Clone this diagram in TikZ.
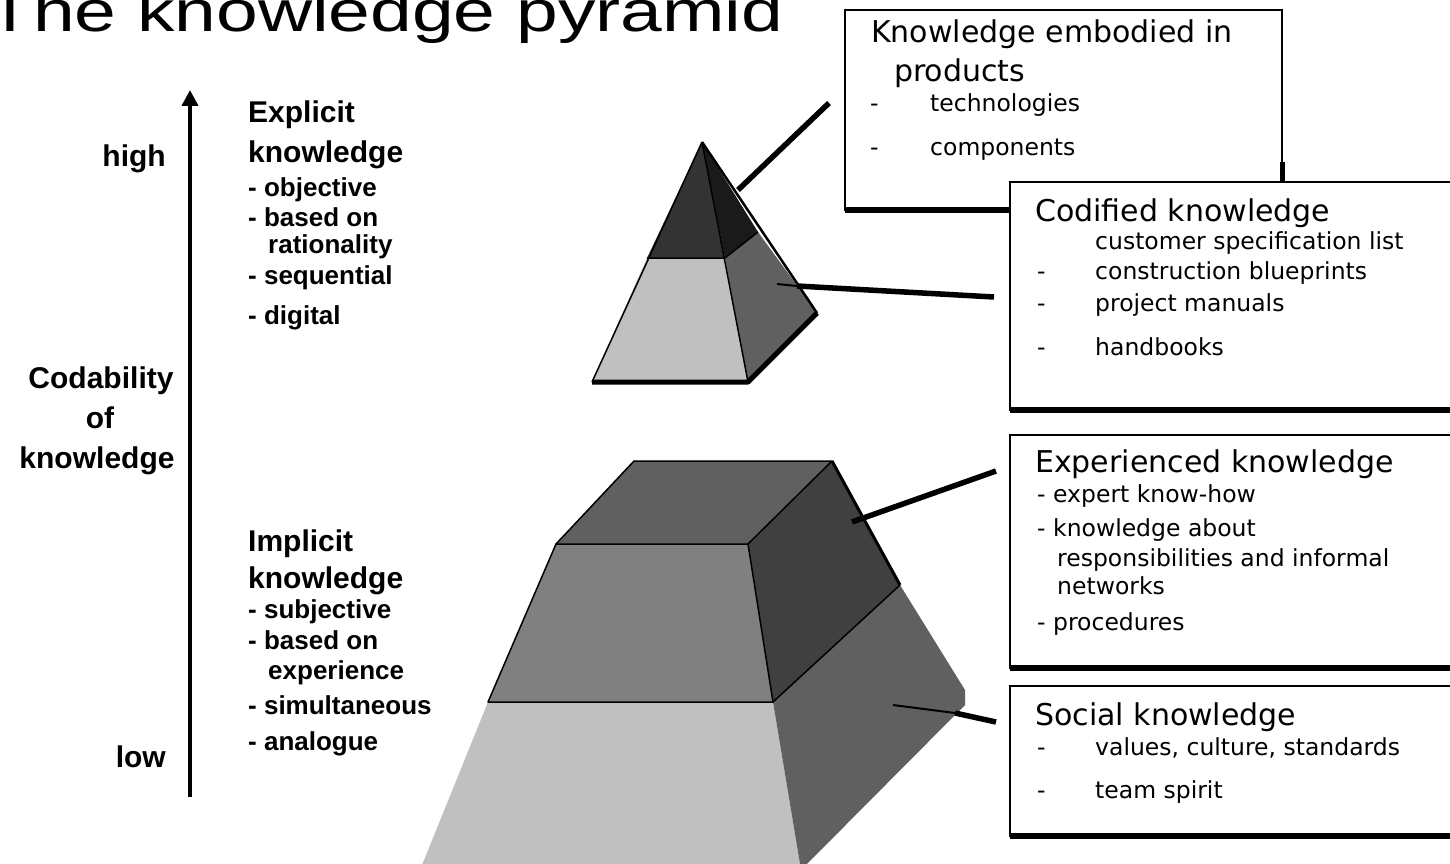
\documentclass[tikz,border=0pt]{standalone}
\usepackage{graphicx}
\usepackage{fontspec}
\setmainfont{Liberation Sans}
\newfontfamily\dvs{DejaVu Sans}
\usetikzlibrary{arrows.meta}
\definecolor{g1a}{HTML}{1A1A1A}
\definecolor{g33}{HTML}{333333}
\definecolor{g40}{HTML}{404040}
\definecolor{g60}{HTML}{606060}
\definecolor{g80}{HTML}{808080}
\definecolor{gc0}{HTML}{C0C0C0}
\begin{document}
\begin{tikzpicture}[x=1pt,y=-1pt,
  lbl/.style={anchor=base west,inner sep=0pt,font=\bfseries\fontsize{26}{30}\selectfont},
  lblh/.style={anchor=base west,inner sep=0pt,font=\bfseries\fontsize{30}{36}\selectfont},
  bh/.style={anchor=base west,inner sep=0pt,font=\dvs\fontsize{30}{36}\selectfont},
  bi/.style={anchor=base west,inner sep=0pt,font=\dvs\fontsize{23.5}{28}\selectfont},
  thinedge/.style={line width=1.5pt,line join=round},
  heavy/.style={line width=5pt,line join=round},
  conn/.style={line width=5.5pt},
  boxframe/.style={draw=black,fill=white,line width=2pt},
  shadow/.style={line width=6pt}]
\useasboundingbox (0,0) rectangle (1450,864);
\begin{scope}
\clip (0,0) rectangle (1450,864);
% title
\node[anchor=base west,inner sep=0pt,font=\fontsize{58}{62}\selectfont] (title) at (-13,32) {\scalebox{1.293}[1]{The knowledge pyramid}};

% axis
\coordinate (axbot) at (190,797);
\coordinate (axtop) at (190,90);
\draw[line width=4pt,-{Triangle[width=16pt,length=16pt]}] (axbot) -- (axtop);
\node[anchor=base east,inner sep=0pt,font=\bfseries\fontsize{30}{36}\selectfont] (high) at (166,166) {high};
\node[anchor=base east,inner sep=0pt,font=\bfseries\fontsize{30}{36}\selectfont] (low) at (166,767) {low};
\node[anchor=base,inner sep=0pt,font=\bfseries\fontsize{30}{36}\selectfont] (cod1) at (101,388) {Codability};
\node[anchor=base,inner sep=0pt,font=\bfseries\fontsize{30}{36}\selectfont] (cod2) at (100,428) {of};
\node[anchor=base,inner sep=0pt,font=\bfseries\fontsize{30}{36}\selectfont] (cod3) at (97,468) {knowledge};

% explicit
\node[lblh] (ex1) at (248,123) {Explicit};
\node[lblh] (ex2) at (248,162) {knowledge};
\node[lbl] (ex3) at (248,196) {- objective};
\node[lbl] (ex4) at (248,226) {- based on};
\node[lbl] (ex5) at (268,253) {rationality};
\node[lbl] (ex6) at (248,284) {- sequential};
\node[lbl] (ex7) at (248,324) {- digital};
% implicit
\node[lblh] (im1) at (248,551) {Implicit};
\node[lblh] (im2) at (248,588) {knowledge};
\node[lbl] (im3) at (248,618) {- subjective};
\node[lbl] (im4) at (248,649) {- based on};
\node[lbl] (im5) at (268,679) {experience};
\node[lbl] (im6) at (248,714) {- simultaneous};
\node[lbl] (im7) at (248,750) {- analogue};

% upper pyramid
\coordinate (A) at (702,142);
\coordinate (L1) at (647,258);
\coordinate (M1) at (725,258);
\coordinate (R1) at (758,232);
\coordinate (BL) at (592,382);
\coordinate (BM) at (748,382);
\coordinate (BR) at (817,313);
\fill[g33] (A)--(L1)--(M1)--cycle;
\fill[g1a] (A)--(M1)--(R1)--cycle;
\fill[gc0] (L1)--(M1)--(BM)--(BL)--cycle;
\fill[g60] (M1)--(R1)--(BR)--(BM)--cycle;
\draw[thinedge] (A)--(BL);
\draw[thinedge] (A)--(BM);
\draw[thinedge] (L1)--(M1)--(R1);
\draw[line width=2.5pt] (A)--(BR);
\draw[heavy] (BL)--(BM)--(BR);

% lower pyramid
\coordinate (T1) at (634,461);
\coordinate (T2) at (832,461);
\coordinate (T3) at (748,544);
\coordinate (T4) at (556,544);
\coordinate (N1) at (488,702);
\coordinate (N2) at (773,702);
\coordinate (N3) at (900,585);
\coordinate (N4) at (965,690);
\coordinate (N5) at (965,705);
\coordinate (F1) at (420,870);
\coordinate (F2) at (801,870);
\fill[gc0] (N1)--(N2)--(F2)--(F1)--cycle;
\fill[g60] (N2)--(N3)--(N4)--(N5)--(F2)--cycle;
\fill[g60] (T1)--(T2)--(T3)--(T4)--cycle;
\fill[g40] (T2)--(N3)--(N2)--(T3)--cycle;
\fill[g80] (T4)--(T3)--(N2)--(N1)--cycle;
\draw[thinedge] (T4)--(T1)--(T2)--(T3)--cycle;
\draw[thinedge] (T4)--(N1)--(N2)--(T3);
\draw[thinedge] (N2)--(N3);
\draw[line width=3pt] (T2)--(N3);

% connectors
\coordinate (c1a) at (738,190);
\coordinate (c1b) at (829,103);
\draw[conn] (c1a)--(c1b);
\coordinate (c2a) at (777,284);
\coordinate (c2m) at (797,286);
\coordinate (c2b) at (994,297);
\draw[line width=2pt] (c2a)--(c2m);
\draw[conn] (c2m)--(c2b);
\coordinate (c3a) at (852,522);
\coordinate (c3b) at (996,471);
\draw[conn] (c3a)--(c3b);
\coordinate (c4a) at (893,705);
\coordinate (c4m) at (955,713);
\coordinate (c4b) at (996,722);
\draw[line width=2pt] (c4a)--(c4m);
\draw[conn] (c4m)--(c4b);

% box 1
\draw[boxframe] (845,10) rectangle (1282,210);
\draw[shadow] (845,210)--(1282,210);
\draw[line width=5pt] (1282,162)--(1282,210);
\node[bh] (k1) at (871,43) {Knowledge embodied in};
\node[bh] (k2) at (894,82) {products};
\node[bi] (k3d) at (870,112) {-};
\node[bi] (k3) at (930,112) {technologies};
\node[bi] (k4d) at (870,155) {-};
\node[bi] (k4) at (930,155) {components};

% box 2
\draw[boxframe] (1010,182) rectangle (1470,410);
\draw[shadow] (1010,410)--(1470,410);
\node[bh] (d1) at (1035,221) {Codified knowledge};
\node[bi] (d2) at (1095,249) {customer specification list};
\node[bi] (d3d) at (1037,279) {-};
\node[bi] (d3) at (1095,279) {construction blueprints};
\node[bi] (d4d) at (1037,311) {-};
\node[bi] (d4) at (1095,311) {project manuals};
\node[bi] (d5d) at (1037,355) {-};
\node[bi] (d5) at (1095,355) {handbooks};

% box 3
\draw[boxframe] (1010,435) rectangle (1470,668);
\draw[shadow] (1010,668)--(1470,668);
\node[bh] (e1) at (1035,472) {Experienced knowledge};
\node[bi] (e2) at (1037,502) {- expert know-how};
\node[bi] (e3) at (1037,536) {- knowledge about};
\node[bi] (e4) at (1057,566) {responsibilities and informal};
\node[bi] (e5) at (1057,594) {networks};
\node[bi] (e6) at (1037,630) {- procedures};

% box 4
\draw[boxframe] (1010,686) rectangle (1470,836);
\draw[shadow] (1010,836)--(1470,836);
\node[bh] (s1) at (1035,725) {Social knowledge};
\node[bi] (s2d) at (1037,755) {-};
\node[bi] (s2) at (1095,755) {values, culture, standards};
\node[bi] (s3d) at (1037,798) {-};
\node[bi] (s3) at (1095,798) {team spirit};
\end{scope}
\end{tikzpicture}
\end{document}
